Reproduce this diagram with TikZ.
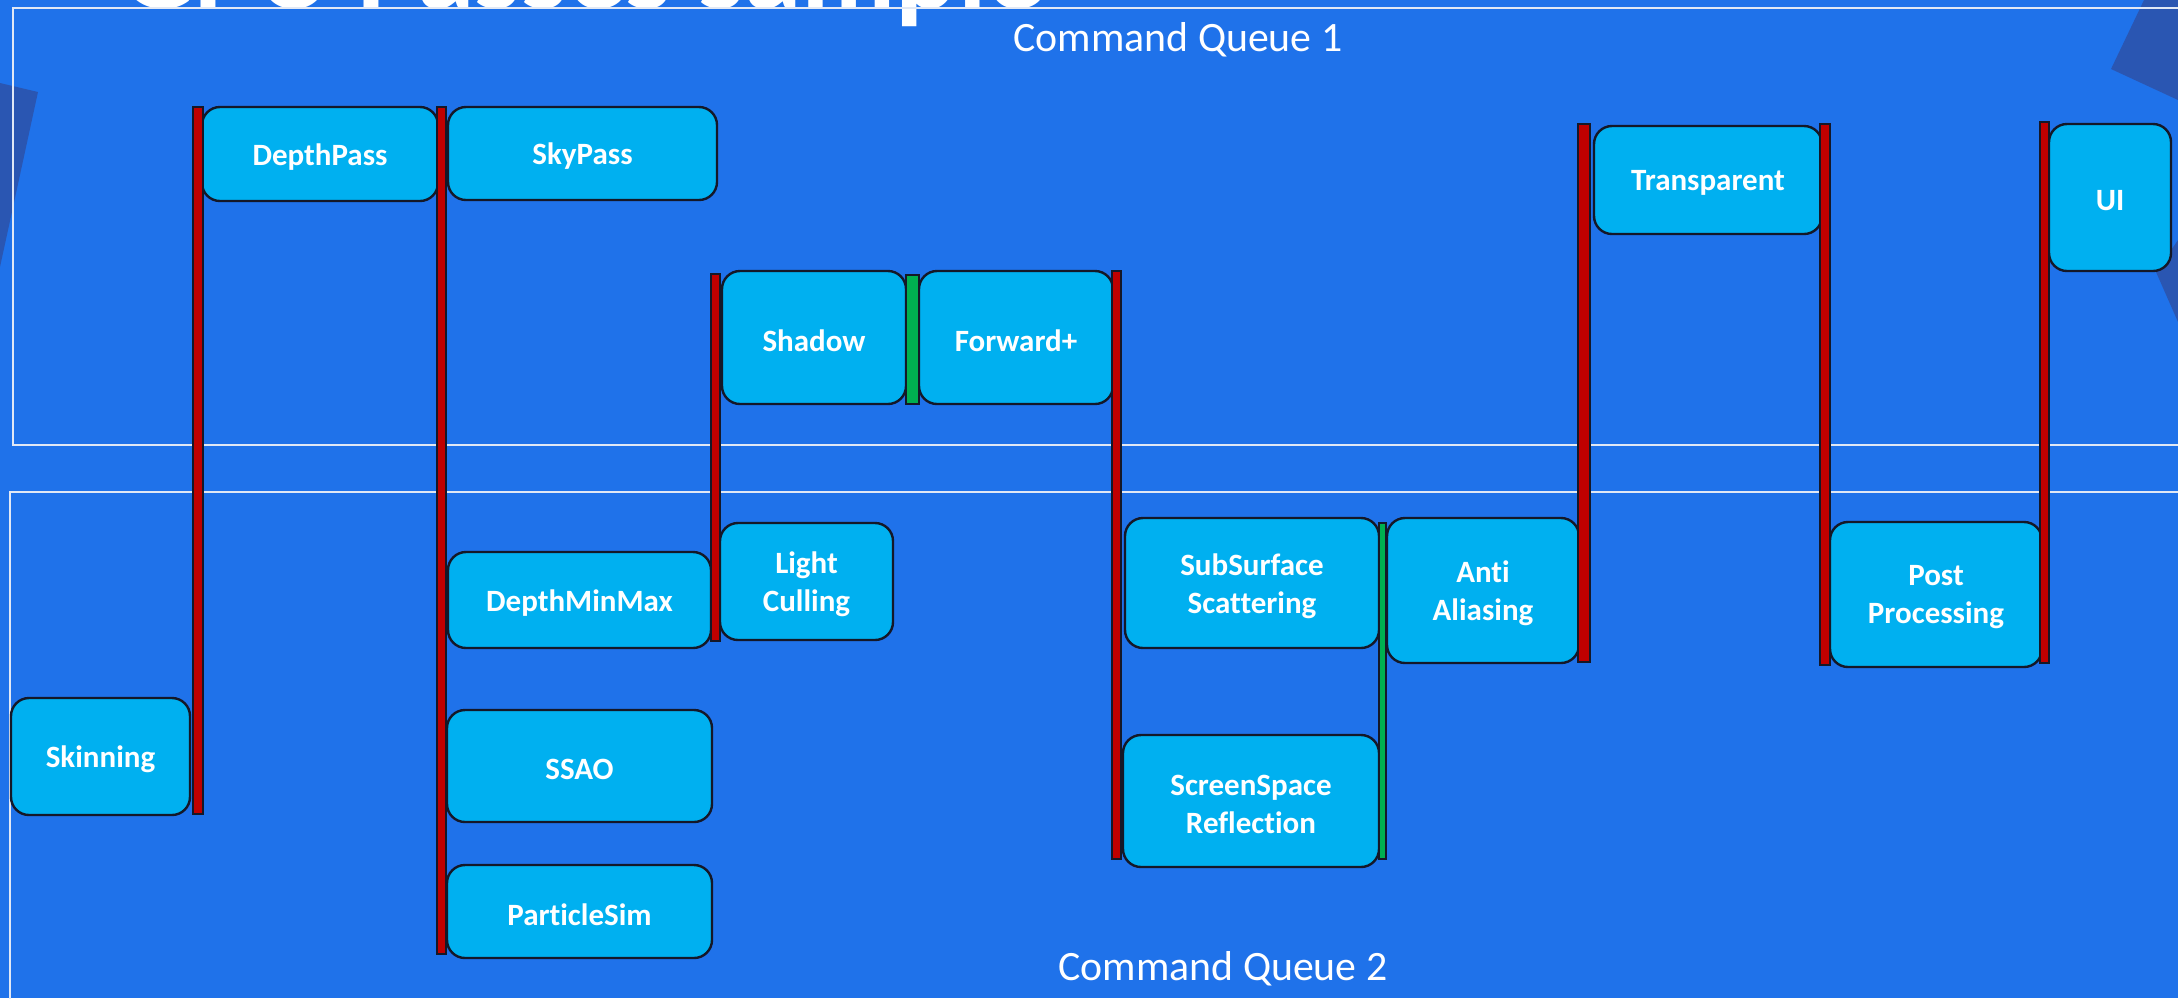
\documentclass[tikz,border=0pt]{standalone}
\usepackage{fontspec}
\setmainfont[Ligatures=NoCommon]{Carlito}

\definecolor{slide}{RGB}{31,114,234}
\definecolor{decoblue}{RGB}{42,86,178}
\definecolor{passfill}{RGB}{0,176,240}
\definecolor{barred}{RGB}{192,0,0}
\definecolor{bargreen}{RGB}{0,176,80}
\definecolor{edge}{RGB}{20,24,40}
\definecolor{frame}{RGB}{225,232,245}

\tikzset{
  pass/.style={draw=edge, line width=1.2pt, fill=passfill, rounded corners=9pt, inner sep=0pt},
  passtext/.style={text=white, font=\bfseries\fontsize{15.5}{19}\selectfont, align=center, inner sep=0pt},
  redbar/.style={draw=edge, line width=0.8pt, fill=barred},
  greenbar/.style={draw=edge, line width=0.8pt, fill=bargreen},
  queue/.style={draw=frame, line width=1pt},
  qlabel/.style={text=white, font=\fontsize{20.9}{25}\selectfont, inner sep=0pt, anchor=base},
}

% a pass box given by its corners (x1,y1) (x2,y2), with its caption
\newcommand\passbox[6]{%
  \node[pass, minimum width={(#4-#2)*0.5pt}, minimum height={(#5-#3)*0.5pt}]
    (#1) at ({(#2+#4)/2},{(#3+#5)/2}) {};
  \node[passtext] (#1-text) at ([yshift=-1.5pt]#1.center) {#6};}
% a barrier bar given by its corners
\newcommand\passbar[5]{\draw[#1] (#2,#3) rectangle (#4,#5);}

\begin{document}
\begin{tikzpicture}[x=0.5pt,y=-0.5pt]
\useasboundingbox (0,0) rectangle (2178,998);
\clip (0,0) rectangle (2178,998);
\fill[slide] (0,0) rectangle (2178,998);

% slide decoration
\fill[decoblue] (0,83) -- (38,92) -- (0,267) -- cycle;
\fill[decoblue] (2144,0) -- (2111,69) -- (2178,100) -- (2178,0) -- cycle;
\fill[decoblue] (2178,240) -- (2156,272) -- (2178,322) -- cycle;

% slide title
\node[anchor=base west, inner sep=0pt, text=white,
  font=\bfseries\fontsize{58}{60}\selectfont] (title) at (120,8) {GPU Passes sample};

% command queues
\draw[queue] (13,8) rectangle (2200,445);
\draw[queue] (10,492) rectangle (2200,1020);
\node[qlabel] (q1) at (1178,51) {Command Queue 1};
\node[qlabel] (q2) at (1223,980) {Command Queue 2};

% passes
\passbox{depthpass}{202}{107}{438}{201}{DepthPass}
\passbox{skypass}{448}{107}{717}{200}{SkyPass}
\passbox{shadow}{722}{271}{906}{404}{Shadow}
\passbox{forward}{919}{271}{1113}{404}{Forward+}
\passbox{transparent}{1594}{126}{1822}{234}{Transparent}
\passbox{ui}{2049}{124}{2171}{271}{UI}
\passbox{skinning}{11}{698}{190}{815}{Skinning}
\passbox{depthminmax}{448}{552}{711}{648}{DepthMinMax}
\passbox{ssao}{447}{710}{712}{822}{SSAO}
\passbox{particlesim}{447}{865}{712}{958}{ParticleSim}
\passbox{lightculling}{720}{523}{893}{640}{Light\\Culling}
\passbox{sss}{1125}{518}{1379}{648}{SubSurface\\Scattering}
\passbox{ssr}{1123}{735}{1379}{867}{ScreenSpace\\Reflection}
\passbox{aa}{1387}{518}{1579}{663}{Anti\\Aliasing}
\passbox{post}{1830}{522}{2042}{667}{Post\\Processing}

% barriers
\passbar{redbar}{193}{107}{203}{814}
\passbar{redbar}{437}{107}{446}{954}
\passbar{redbar}{711}{274}{720}{641}
\passbar{redbar}{1112}{271}{1121}{859}
\passbar{redbar}{1578}{124}{1590}{662}
\passbar{redbar}{1820}{124}{1830}{665}
\passbar{redbar}{2040}{122}{2049}{663}
\passbar{greenbar}{906}{275}{919}{404}
\passbar{greenbar}{1379}{523}{1386}{859}
\end{tikzpicture}
\end{document}
